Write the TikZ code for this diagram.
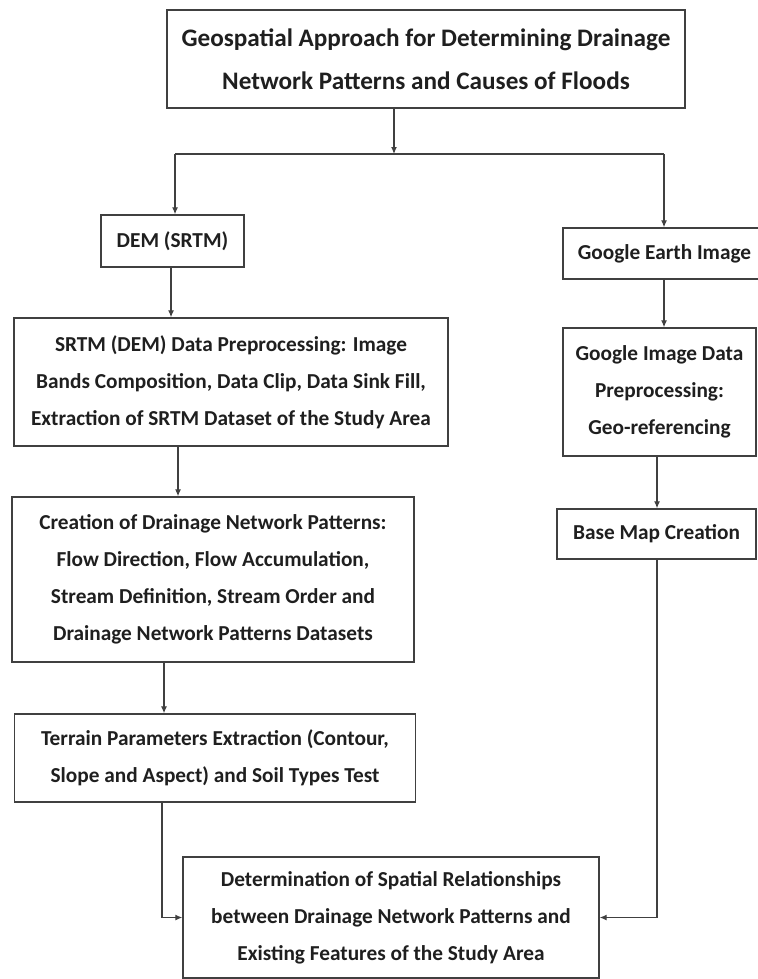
\documentclass[tikz,border=0pt]{standalone}
\usepackage{fontspec}
\setmainfont{Carlito}
\usetikzlibrary{arrows.meta}
\begin{document}
\begin{tikzpicture}[x=1pt,y=-1pt,
  box/.style={draw=black!75, line width=1.4pt, rectangle, inner sep=0pt, align=center,
    font=\fontsize{21.3}{37}\selectfont\bfseries, text=black!88},
  titlebox/.style={box, font=\fontsize{25.2}{43}\selectfont\bfseries},
  conn/.style={draw=black!75, line width=1.2pt},
  arr/.style={conn, -{Latex[length=7pt,width=6pt]}}]
\useasboundingbox (0,0) rectangle (757,979);
\fill[white] (0,0) rectangle (757,979);

\node[titlebox, minimum width=518pt, minimum height=98pt] (top) at (426,59)
  {Geospatial Approach for Determining Drainage\\Network Patterns and Causes of Floods};
\node[box, minimum width=143pt, minimum height=52pt] (dem) at (172.5,241) {DEM (SRTM)};
\node[box, minimum width=434pt, minimum height=128pt] (srtm) at (231,382)
  {SRTM (DEM) Data Preprocessing: Image\\Bands Composition, Data Clip, Data Sink Fill,\\Extraction of SRTM Dataset of the Study Area};
\node[box, minimum width=402pt, minimum height=165pt] (create) at (213,579.5)
  {Creation of Drainage Network Patterns:\\Flow Direction, Flow Accumulation,\\Stream Definition, Stream Order and\\Drainage Network Patterns Datasets};
\node[box, minimum width=401pt, minimum height=88pt] (terrain) at (215,758)
  {Terrain Parameters Extraction (Contour,\\Slope and Aspect) and Soil Types Test};
\node[box, minimum width=416pt, minimum height=121pt] (final) at (391,917.5)
  {Determination of Spatial Relationships\\between Drainage Network Patterns and\\Existing Features of the Study Area};
\node[box, minimum width=203pt, minimum height=51pt] (ge) at (664.5,253.5) {Google Earth Image};
\node[box, minimum width=193pt, minimum height=128pt] (gid) at (659.5,392)
  {Google Image Data\\Preprocessing:\\Geo-referencing};
\node[box, minimum width=199pt, minimum height=50pt] (base) at (656.5,534) {Base Map Creation};

\coordinate (j) at (394,154);
\coordinate (jl) at (175,154);
\coordinate (jr) at (664,154);
\coordinate (xa) at (171,0);
\coordinate (xb) at (178,0);
\coordinate (xc) at (164,0);
\coordinate (xd) at (162,0);
\coordinate (xe) at (657,0);
\coordinate (yb) at (0,917.5);

\draw[arr] (top.south -| j) -- (j);
\draw[conn] (jl) -- (jr);
\draw[arr] (jl) -- (jl |- dem.north);
\draw[arr] (jr) -- (jr |- ge.north);
\draw[arr] (dem.south -| xa) -- (srtm.north -| xa);
\draw[arr] (srtm.south -| xb) -- (create.north -| xb);
\draw[arr] (create.south -| xc) -- (terrain.north -| xc);
\draw[arr] (ge.south -| jr) -- (gid.north -| jr);
\draw[arr] (gid.south -| xe) -- (base.north -| xe);
\draw[arr] (terrain.south -| xd) -- (xd |- yb) -- (final.west);
\draw[arr] (base.south -| xe) -- (xe |- yb) -- (final.east);
\end{tikzpicture}
\end{document}
